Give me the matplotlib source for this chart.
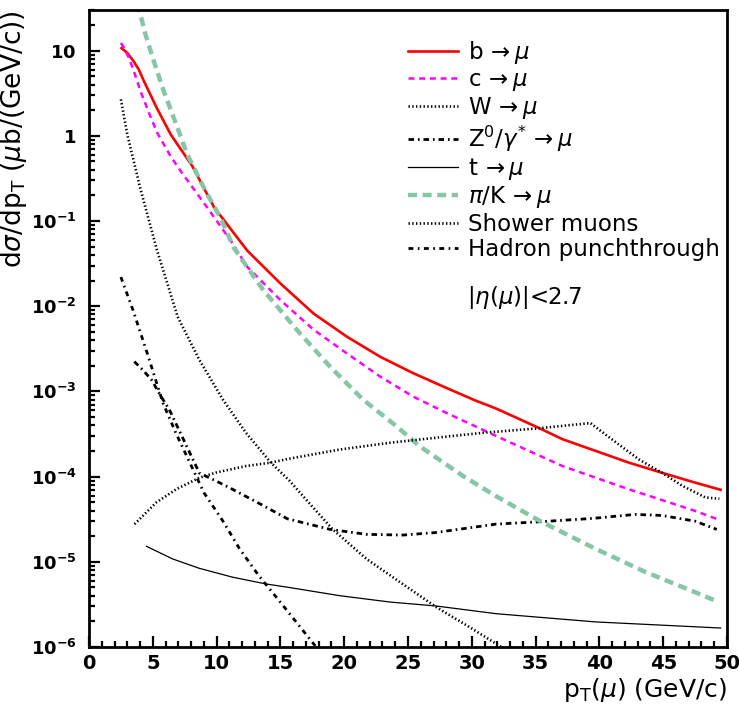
import numpy as np
import matplotlib
matplotlib.use('Agg')
from matplotlib import pyplot as plt
from matplotlib.ticker import FixedLocator, MultipleLocator, NullFormatter

plt.rcParams['font.family'] = ['DejaVu Sans']
plt.rcParams['lines.scale_dashes'] = False
plt.rcParams['mathtext.fontset'] = 'dejavusans'

## data (pT in GeV/c, dsigma/dpT in mub/(GeV/c))
b_x = [2.55, 3.0, 3.5, 3.9, 4.3, 5.3, 6.4, 8.1, 9.8, 12.4, 15.0, 17.6, 20.2, 22.8,
       25.4, 28.0, 30.3, 31.9, 35.3, 37.1, 42.3, 44.9, 47.5, 49.5]
b_y = [10.7, 9.4, 7.5, 6.0, 4.4, 2.14, 1.04, 0.44, 0.145, 0.045, 0.0185, 0.0082, 0.0044, 0.00256,
       0.00164, 0.0011, 7.8e-4, 6.3e-4, 3.7e-4, 2.75e-4, 1.46e-4, 1.11e-4, 8.5e-5, 7.0e-5]

c_x = [2.5, 2.76, 3.13, 3.52, 4.04, 4.69, 5.34, 6.38, 7.16, 9.25, 11.1, 12.4, 15.0, 17.6,
       20.2, 22.8, 25.4, 28.0, 31.9, 37.1, 42.3, 47.5, 49.4]
c_y = [12.3, 10.7, 8.2, 5.7, 3.34, 1.87, 1.09, 0.58, 0.39, 0.145, 0.059, 0.029, 0.0118, 0.0053,
       0.0028, 0.0015, 8.7e-4, 5.6e-4, 3.0e-4, 1.33e-4, 7.1e-5, 3.96e-5, 3.1e-5]

w_x = [2.5, 3.0, 4.0, 5.3, 6.95, 8.65, 10.5, 12.3, 14.25, 15.7, 17.1, 19.1, 21.75, 24.35,
       27.2, 30.0, 32.3, 33.0]
w_y = [2.68, 1.04, 0.248, 0.047, 0.0075, 0.00234, 8.0e-4, 3.27e-4, 1.46e-4, 9.0e-5, 5.2e-5, 2.4e-5,
       1.08e-5, 5.8e-6, 2.95e-6, 1.65e-6, 1.0e-6, 8.5e-7]

z_x = [3.55, 4.2, 4.9, 5.65, 6.3, 7.9, 8.65, 9.95, 11.25, 13.5, 15.55, 18.9, 21.75, 24.6,
       27.1, 31.9, 35.3, 39.45, 42.8, 44.9, 47.5, 49.2]
z_y = [2.24e-3, 1.8e-3, 1.37e-3, 8.7e-4, 6.1e-4, 1.9e-4, 1.1e-4, 8.9e-5, 7.1e-5, 4.7e-5, 3.2e-5,
       2.4e-5, 2.1e-5, 2.06e-5, 2.2e-5, 2.77e-5, 2.95e-5, 3.23e-5, 3.6e-5, 3.5e-5, 3.0e-5, 2.4e-5]

t_x = [4.5, 6.56, 8.63, 11.25, 13.86, 15.68, 19.66, 23.6, 27.2, 31.9, 39.7, 49.5]
t_y = [1.52e-5, 1.08e-5, 8.4e-6, 6.6e-6, 5.5e-6, 5.0e-6, 4.0e-6, 3.37e-6, 3.03e-6, 2.46e-6,
       1.97e-6, 1.67e-6]

pik_x = [3.8, 4.43, 5.08, 5.86, 6.64, 7.69, 9.12, 10.29, 11.33, 12.38, 13.67, 16.28, 18.88,
         21.48, 24.1, 25.9, 29.3, 31.9, 35.3, 39.7, 43.6, 47.5, 49.35]
pik_y = [36.0, 15.4, 7.5, 3.34, 1.63, 0.61, 0.227, 0.11, 0.049, 0.029, 0.0154, 0.0053, 0.00196,
         8.0e-4, 3.9e-4, 2.28e-4, 1.02e-4, 5.9e-5, 3.03e-5, 1.42e-5, 7.6e-6, 4.4e-6, 3.37e-6]

shower_x = [3.57, 5.27, 6.83, 8.65, 10.0, 12.3, 14.25, 15.66, 19.66, 23.6, 27.2, 30.9, 35.3,
            39.3, 40.5, 43.1, 44.9, 46.5, 48.3, 49.4]
shower_y = [2.77e-5, 4.97e-5, 7.1e-5, 9.7e-5, 1.12e-4, 1.33e-4, 1.46e-4, 1.62e-4, 2.08e-4, 2.5e-4,
            2.86e-4, 3.27e-4, 3.7e-4, 4.25e-4, 3.1e-4, 1.59e-4, 1.11e-4, 7.8e-5, 5.7e-5, 5.5e-5]

punch_x = [2.5, 3.46, 4.6, 5.8, 6.8, 7.9, 9.0, 10.5, 11.8, 13.3, 14.9, 17.8, 18.3]
punch_y = [0.022, 8.9e-3, 2.7e-3, 7.3e-4, 3.27e-4, 1.46e-4, 6.5e-5, 3.0e-5, 1.42e-5, 6.9e-6,
           3.5e-6, 1.0e-6, 8.5e-7]

labels = [r'b$\,\rightarrow\mu$', r'c$\,\rightarrow\mu$', r'W$\,\rightarrow\mu$',
          r'Z$^{\mathrm{0}}$/$\gamma^{*}\,\rightarrow\mu$', r't$\,\rightarrow\mu$',
          r'$\pi$/K$\,\rightarrow\mu$', 'Shower muons', 'Hadron punchthrough']

yticks = [1e-6, 1e-5, 1e-4, 1e-3, 1e-2, 1e-1, 1, 10]
ytick_labels = [r'$\mathbf{10^{-6}}$', r'$\mathbf{10^{-5}}$', r'$\mathbf{10^{-4}}$',
                r'$\mathbf{10^{-3}}$', r'$\mathbf{10^{-2}}$', r'$\mathbf{10^{-1}}$',
                r'$\mathbf{1}$', r'$\mathbf{10}$']

## plot
fig = plt.figure(figsize=(7.39, 7.05), dpi=100)
ax = fig.add_axes([89/739, 58/705, 638/739, 637/705])

ax.plot(b_x, b_y, color='#ff0000', lw=1.9, label=labels[0])
ax.plot(c_x, c_y, color='#ff00ff', lw=1.8, linestyle=(0, (4.3, 3.4)), label=labels[1])
ax.plot(w_x, w_y, color='black', lw=1.9, linestyle=(0, (1.0, 1.7)), label=labels[2])
ax.plot(z_x, z_y, color='black', lw=2.0, linestyle=(0, (4.0, 2.8, 1.2, 2.8)), label=labels[3])
ax.plot(t_x, t_y, color='black', lw=0.9, label=labels[4])
ax.plot(pik_x, pik_y, color='#86c6a6', lw=3.2, linestyle=(0, (6.5, 4.0)), label=labels[5])
ax.plot(shower_x, shower_y, color='black', lw=1.9, linestyle=(0, (1.0, 1.7)), label=labels[6])
ax.plot(punch_x, punch_y, color='black', lw=2.0, linestyle=(0, (3.5, 3.2, 1.2, 3.2)), label=labels[7])

ax.set_yscale('log')
ax.set_xlim(0, 50)
ax.set_ylim(1e-6, 30)

ax.yaxis.set_major_locator(FixedLocator(yticks))
ax.set_yticklabels(ytick_labels)
ax.yaxis.set_minor_locator(FixedLocator([m * 10.0**e for e in range(-6, 2) for m in range(2, 10)]))
ax.yaxis.set_minor_formatter(NullFormatter())
ax.xaxis.set_major_locator(MultipleLocator(5))
ax.xaxis.set_minor_locator(MultipleLocator(1))
for lab in ax.get_xticklabels():
    lab.set_fontweight('bold')

ax.tick_params(which='both', direction='in', top=False, right=False, width=1.6)
ax.tick_params(which='major', length=8, labelsize=13)
ax.tick_params(axis='x', which='major', labelsize=14, pad=5)
ax.tick_params(axis='y', which='major', pad=9)
ax.tick_params(which='minor', length=4)
for s in ax.spines.values():
    s.set_linewidth(2.0)

ax.set_xlabel(r'p$_{\mathrm{T}}$($\mu$) (GeV/c)', loc='right', fontsize=18, labelpad=2)
ax.set_ylabel(r'd$\sigma$/dp$_{\mathrm{T}}$ ($\mu$b/(GeV/c))', loc='top', fontsize=19, labelpad=1)

ax.legend(loc='upper left', bbox_to_anchor=(0.5, 0.955), frameon=False, fontsize=16.5,
          handlelength=2.2, handletextpad=0.4, labelspacing=0.1, borderpad=0, borderaxespad=0)
ax.text(0.5925, 0.549, r'|$\eta$($\mu$)|<2.7', transform=ax.transAxes, fontsize=16.5, va='center')

plt.savefig('out.png', dpi=100)
